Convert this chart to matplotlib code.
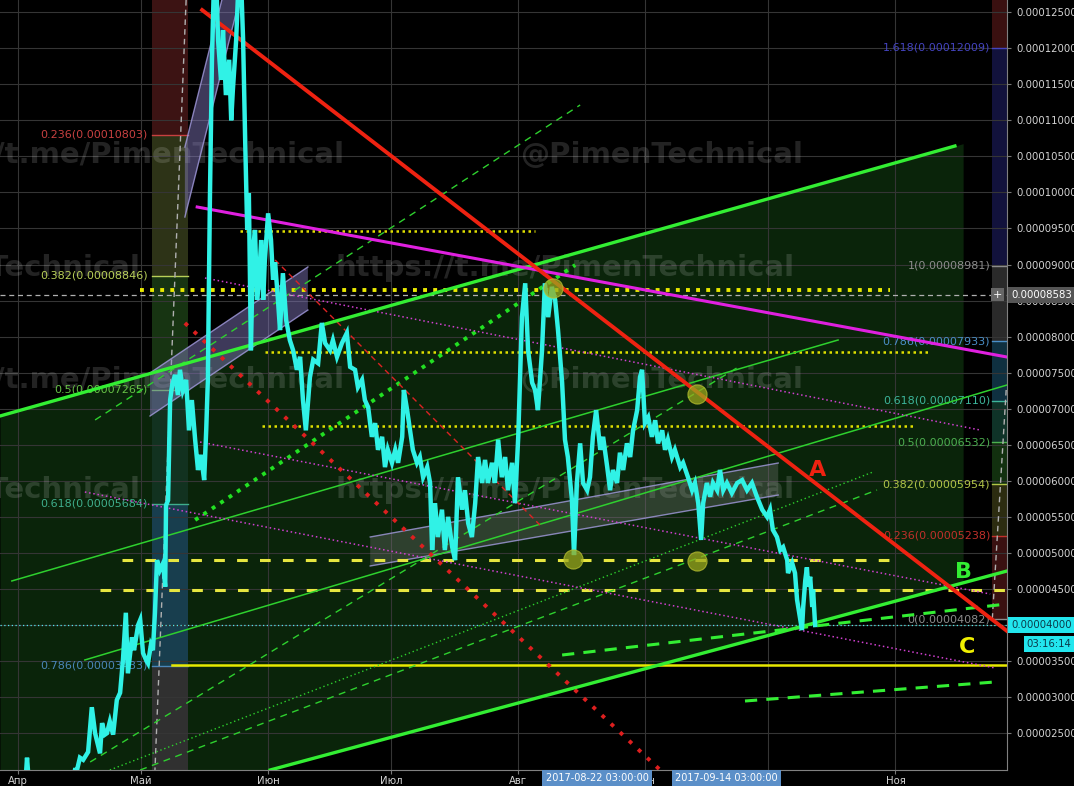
import numpy as np
import matplotlib
matplotlib.use("Agg")
import matplotlib.pyplot as plt
from matplotlib.patches import Polygon

plt.rcParams['font.family'] = ['DejaVu Sans']

# ---- time axis: days counted from 1 April 2017 ----
month_days = [0, 30, 61, 91, 122, 153, 183, 214]
month_labels = ['Апр', 'Май', 'Июн', 'Июл', 'Авг', 'Сен', 'Окт', 'Ноя']
x_range = [-4.39, 241.2]

# ---- price axis, in satoshi (1e-8) ----
y_range = [1989, 12669]
price_ticks = list(range(2500, 12501, 500))

price_day = [
    0.5, 1.7, 2.2, 2.7, 4.1, 7.8, 11.5, 13.2, 13.9, 14.4,
    15.1, 15.9, 17.1, 18.0, 18.8, 20.0, 20.5, 21.2, 21.7, 22.4,
    23.2, 24.1, 24.9, 25.6, 26.3, 26.8, 27.8, 28.3, 29.3, 29.8,
    30.5, 31.2, 31.7, 32.4, 32.9, 33.4, 33.9, 34.6, 35.4, 35.9,
    36.1, 36.6, 37.1, 37.6, 38.3, 39.0, 39.5, 40.2, 41.0, 41.7,
    42.4, 43.2, 43.9, 44.6, 45.4, 45.9, 46.3, 46.8, 47.3, 47.8,
    48.3, 48.8, 49.5, 50.0, 50.7, 51.5, 52.0, 52.4, 53.2, 53.7,
    54.4, 54.9, 55.4, 55.9, 56.3, 56.8, 57.3, 57.8, 58.3, 58.8,
    59.3, 59.8, 60.2, 61.0, 61.7, 62.2, 62.7, 63.4, 63.9, 64.6,
    65.4, 66.3, 67.1, 68.0, 68.8, 69.5, 70.2, 71.2, 72.0, 73.2,
    74.1, 74.9, 76.1, 76.8, 77.8, 79.0, 80.2, 81.0, 82.2, 82.9,
    83.9, 84.6, 85.4, 86.3, 87.1, 87.8, 88.8, 89.5, 90.2, 91.2,
    92.0, 92.7, 93.7, 94.1, 94.9, 95.6, 96.3, 97.3, 98.0, 98.8,
    99.8, 100.5, 101.0, 101.7, 102.4, 103.4, 104.1, 104.9, 105.9, 106.6,
    107.3, 108.3, 109.0, 109.8, 110.7, 111.5, 112.2, 113.2, 113.9, 114.6,
    115.6, 116.3, 117.1, 118.0, 118.8, 119.5, 120.5, 121.2, 122.0, 122.9,
    123.7, 124.4, 125.4, 126.1, 126.8, 127.8, 128.5, 129.3, 130.2, 131.0,
    131.7, 132.7, 133.4, 134.1, 135.1, 135.6, 136.3, 137.1, 137.8, 138.8,
    139.5, 140.2, 141.0, 142.0, 142.7, 143.7, 144.4, 145.1, 146.1, 146.8,
    147.6, 148.5, 149.3, 150.0, 151.0, 151.7, 152.2, 152.9, 153.7, 154.6,
    155.4, 156.1, 157.1, 157.8, 158.5, 159.5, 160.2, 161.5, 162.2, 163.4,
    164.4, 165.1, 165.9, 166.6, 167.1, 168.0, 168.8, 169.5, 170.5, 171.2,
    172.0, 172.9, 174.1, 175.4, 176.6, 177.8, 179.0, 180.2, 181.5, 182.7,
    183.4, 184.1, 185.1, 185.9, 186.6, 187.6, 187.8, 188.8, 189.5, 190.0,
    190.7, 191.2, 191.5, 192.0, 192.4, 192.7, 193.2, 193.7, 193.9, 194.4,
]
price_sat = [
    1570, 1710, 2160, 1780, 1570, 1640, 1710, 1780, 1990, 1990,
    2160, 2130, 2240, 2860, 2500, 2220, 2640, 2480, 2500, 2660,
    2480, 2960, 3060, 3520, 4170, 3330, 3830, 3650, 4000, 4070,
    3610, 3520, 3470, 3720, 3650, 4170, 4900, 4760, 4860, 4530,
    5660, 5730, 7120, 7330, 7470, 7190, 7540, 7260, 7400, 6700,
    7120, 6570, 6150, 6360, 6010, 6700, 7400, 9900, 11840, 12950,
    13020, 12110, 11560, 12250, 11350, 11840, 11000, 11420, 12110, 12810,
    12950, 12110, 10730, 9480, 9990, 7810, 9200, 9480, 8510, 8790,
    9340, 8510, 9060, 9710, 9340, 8790, 9030, 8510, 8090, 8880,
    8230, 7950, 7810, 7540, 7720, 7120, 6700, 7440, 7680, 7630,
    8190, 7910, 7810, 7950, 7720, 7910, 8050, 7580, 7540, 7300,
    7400, 7120, 7020, 6610, 6800, 6430, 6610, 6190, 6430, 6250,
    6430, 6250, 6610, 7260, 6980, 6700, 6430, 6250, 6330, 6050,
    6190, 5970, 5040, 5690, 5220, 5600, 5040, 5500, 5080, 4900,
    6050, 5600, 5870, 5410, 5220, 5690, 6330, 5970, 6290, 5970,
    6250, 5970, 6570, 6050, 6330, 5870, 6250, 5690, 6610, 8270,
    8740, 7810, 7360, 7260, 6980, 7810, 8740, 8270, 8690, 8510,
    8090, 7360, 6570, 6330, 5730, 4970, 5970, 6520, 5970, 5870,
    6050, 6610, 6980, 6430, 6610, 6190, 5870, 6150, 5970, 6390,
    6150, 6520, 6330, 6700, 6980, 7440, 7540, 6800, 6880, 6610,
    6840, 6520, 6700, 6430, 6570, 6330, 6430, 6190, 6250, 6050,
    5870, 5970, 5690, 5180, 5690, 5970, 5780, 5970, 5870, 6150,
    5870, 5970, 5830, 5970, 6010, 5870, 5970, 5780, 5600, 5500,
    5600, 5320, 5220, 5040, 5080, 4900, 4720, 4860, 4720, 4350,
    4110, 3930, 4250, 4620, 4800, 4530, 4670, 4250, 4490, 4000,
]

last_price = 4000
cursor_price = 8583
last_clock = '03:16:14'
date_marks = ['2017-08-22 03:00:00', '2017-09-14 03:00:00']
date_mark_days = [141.2, 172.7]

# Fibonacci retracement over the May impulse
fib_left_days = [32.7, 41.5]
fib_left_ratios = ['0', '0.236', '0.382', '0.5', '0.618', '0.786', '1']
fib_left_values = [13964, 10803, 8846, 7265, 5684, 3433, 566]
fib_left_trend = [(41.0, 12669), (33.4, 1989)]

# Fibonacci retracement over the August-September leg
fib_right_days = [237.6, 241.2]
fib_right_ratios = ['0', '0.236', '0.382', '0.5', '0.618', '0.786', '1', '1.618', '2.618']
fib_right_values = [4082, 5238, 5954, 6532, 7110, 7933, 8981, 12009, 16908]
fib_right_trend = [(241.0, 7260), (237.6, 4070)]

# trend lines as ((day, sat), (day, sat))
green_upper = [(-4.39, 6899), (228.5, 10644)]
green_lower = [(61.5, 1989), (241.2, 4749)]
green_thin_a = [(-1.5, 4611), (200.0, 7953)]
green_thin_b = [(16.3, 3515), (241.2, 7329)]
green_dash_steep_a = [(18.8, 6844), (137.1, 11213)]
green_dash_steep_b = [(17.6, 2100), (176.1, 7593)]
green_dot_fan = [(22.4, 1989), (208.5, 6122)]
green_dash_fan = [(29.8, 1989), (209.5, 5873)]
green_dash_low_a = [(132.7, 3584), (241.2, 4292)]
green_dash_low_b = [(177.3, 2946), (238.3, 3210)]
green_dots_big = [(43.2, 5457), (135.9, 8993)]
red_main = [(44.9, 12530), (241.2, 3917)]
red_dots_big = [(40.7, 8189), (156.6, 1989)]
red_dash = [(62.7, 9063), (127.3, 5387)]
magenta_main = [(43.7, 9798), (241.2, 7717)]
magenta_dot_a = [(45.6, 8813), (234.6, 6705)]
magenta_dot_b = [(44.4, 6538), (237.1, 4430)]
magenta_dot_c = [(16.3, 5845), (238.3, 3404)]
channel_end_day = 230.5

# horizontal levels: (sat, start day, end day)
level_big_dots = [(8647, 29.8, 212.7)]
level_small_dots = [(9465, 54.1, 126.1), (7787, 60.2, 222.4), (6760, 59.5, 218.8)]
level_dashed = [(4902, 25.4, 214.4), (4486, 20.0, 241.2)]
level_solid = [(3446, 37.6, 241.2)]

# parallel channels: day span, lower line, upper line
band_days = [[40.7, 55.9], [32.2, 70.7], [85.9, 185.4]]
band_lower = [[9659, 13099], [6899, 8369], [4819, 5803]]
band_upper = [[10630, 14070], [7496, 8966], [5221, 6247]]

# touch points
touch_day = [130.5, 165.6, 135.4, 165.6]
touch_sat = [8675, 7204, 4916, 4888]

wave_labels = ['A', 'B', 'C']
wave_day = [195.1, 230.5, 231.5]
wave_sat = [6150, 4735, 3695]


def line_y(seg, x):
    (x0, y0), (x1, y1) = seg
    return y0 + (y1 - y0) * (np.asarray(x, dtype=float) - x0) / (x1 - x0)


def sat_text(v):
    return f"{v * 1e-8:.8f}"


fig = plt.figure(figsize=(10.74, 7.86), dpi=100, facecolor='black')
ax = fig.add_axes([0, 16 / 786, 1007 / 1074, 770 / 786])
ax.set_facecolor('black')
ax.set_xlim(*x_range)
ax.set_ylim(*y_range)

# grid and scales
ax.set_xticks(month_days)
ax.set_xticklabels(month_labels)
ax.set_yticks(price_ticks)
ax.set_yticklabels([sat_text(v) for v in price_ticks])
ax.yaxis.tick_right()
ax.grid(True, color='#353535', lw=0.8)
ax.set_axisbelow(True)
ax.tick_params(axis='both', colors='#777777', labelcolor='#d4d4d4',
               labelsize=7.3, length=3, width=0.8)
ax.tick_params(axis='y', pad=4)
ax.tick_params(axis='x', pad=1.5)
for s in ['top', 'left']:
    ax.spines[s].set_visible(False)
for s in ['right', 'bottom']:
    ax.spines[s].set_color('#808080')
    ax.spines[s].set_linewidth(0.8)

# green channel fill
cx = np.array([x_range[0], channel_end_day])
ax.fill_between(cx, line_y(green_lower, cx), line_y(green_upper, cx),
                color='#0a240a', lw=0, zorder=0.1)

# Fibonacci columns
fib_left_fill = ['#3c1313', '#2d3317', '#173412', '#123220', '#183e4e', '#303030']
fib_left_col = ['#909090', '#c84040', '#b8cf58', '#66c046', '#3fae8c', '#4a86b8', '#909090']
for i in range(len(fib_left_values) - 1):
    ax.fill_between(fib_left_days, fib_left_values[i + 1], fib_left_values[i],
                    color=fib_left_fill[i], lw=0, zorder=0.3)
for r, v, c in zip(fib_left_ratios, fib_left_values, fib_left_col):
    if y_range[0] < v < y_range[1]:
        ax.plot(fib_left_days, [v, v], color=c, lw=1, zorder=2)
        ax.text(fib_left_days[0] - 1.0, v, f"{r}({sat_text(v)})", color=c,
                fontsize=8, ha='right', va='center', zorder=2)
ax.plot(*zip(*fib_left_trend), color='#b0b0b0', lw=1, ls=(0, (4, 3)), zorder=2)

fib_right_fill = ['#3a1111', '#2c2c10', '#12300f', '#0f3328', '#0f3040',
                  '#2a2a2a', '#12123c', '#3a1010']
fib_right_col = ['#8c8c8c', '#c0302a', '#b2c548', '#4caf50', '#3cb59a',
                 '#4a8fc8', '#8c8c8c', '#4444c0', '#c03030']
for i in range(len(fib_right_values) - 1):
    ax.fill_between(fib_right_days, fib_right_values[i], fib_right_values[i + 1],
                    color=fib_right_fill[i], lw=0, zorder=0.3)
for r, v, c in zip(fib_right_ratios, fib_right_values, fib_right_col):
    if y_range[0] < v < y_range[1]:
        ax.plot(fib_right_days, [v, v], color=c, lw=1, zorder=2)
        ax.text(fib_right_days[0] - 0.5, v, f"{r}({sat_text(v)})", color=c,
                fontsize=8, ha='right', va='center', zorder=2)
ax.plot(*zip(*fib_right_trend), color='#b0b0b0', lw=1, ls=(0, (4, 3)), zorder=2)

# watermarks
wm = dict(fontsize=21, fontweight='bold', color='white', alpha=0.14,
          transform=ax.transAxes, va='center', zorder=1)
for row, y in enumerate([155, 268, 380, 490]):
    yf = 1 - y / 770
    if row % 2 == 0:
        ax.text(345 / 1007, yf, 'https://t.me/PimenTechnical', ha='right', **wm)
        ax.text(520 / 1007, yf, '@PimenTechnical', ha='left', **wm)
    else:
        ax.text(140 / 1007, yf, '@PimenTechnical', ha='right', **wm)
        ax.text(335 / 1007, yf, 'https://t.me/PimenTechnical', ha='left', **wm)

# parallel channels
band_face = ['#8a80c8', '#8a80c8', '#8c8c8c']
band_alpha = [0.45, 0.45, 0.28]
for d, lo, hi, fc, a in zip(band_days, band_lower, band_upper, band_face, band_alpha):
    pts = [(d[0], lo[0]), (d[1], lo[1]), (d[1], hi[1]), (d[0], hi[0])]
    ax.add_patch(Polygon(pts, closed=True, facecolor=fc, alpha=a, lw=0, zorder=2))
    ax.plot(d, lo, color='#a49ce0', lw=1, alpha=0.8, zorder=2)
    ax.plot(d, hi, color='#a49ce0', lw=1, alpha=0.8, zorder=2)

# horizontal levels
for v, d0, d1 in level_big_dots:
    ax.plot([d0, d1], [v, v], color='#e8e800', lw=2.8, ls=(0, (1, 1.6)), zorder=3)
for v, d0, d1 in level_small_dots:
    ax.plot([d0, d1], [v, v], color='#e0e000', lw=1.8, ls=(0, (1, 1.4)), zorder=3)
for v, d0, d1 in level_dashed:
    ax.plot([d0, d1], [v, v], color='#e6e640', lw=2.2, ls=(0, (3.5, 4)), zorder=3)
for v, d0, d1 in level_solid:
    ax.plot([d0, d1], [v, v], color='#e8e800', lw=1.8, zorder=3)
ax.axhline(cursor_price, color='#b0b0b0', lw=0.9, ls=(0, (4, 3)), zorder=3)
ax.axhline(last_price, color='#50e8e8', lw=0.9, ls=(0, (1, 2)), zorder=3)


def draw(seg, **kw):
    ax.plot([seg[0][0], seg[1][0]], [seg[0][1], seg[1][1]], **kw)


thin_green = '#2ed02e'
draw(green_thin_a, color=thin_green, lw=1.1, zorder=3)
draw(green_thin_b, color=thin_green, lw=1.1, zorder=3)
draw(green_dash_steep_a, color=thin_green, lw=1.0, ls=(0, (5, 4)), zorder=3)
draw(green_dash_steep_b, color=thin_green, lw=1.0, ls=(0, (5, 4)), zorder=3)
draw(green_dot_fan, color=thin_green, lw=1.0, ls=(0, (1, 2)), zorder=3)
draw(green_dash_fan, color=thin_green, lw=1.0, ls=(0, (5, 4)), zorder=3)
draw(green_dash_low_a, color='#33ee33', lw=2.2, ls=(0, (4, 3)), zorder=3)
draw(green_dash_low_b, color='#33ee33', lw=2.2, ls=(0, (4, 3)), zorder=3)
draw(green_dots_big, color='#22e022', lw=2.8, ls=(0, (1, 1.6)), zorder=3)
draw(green_upper, color='#33ee33', lw=2.4, zorder=4)
draw(green_lower, color='#33ee33', lw=2.4, zorder=4)
draw(magenta_dot_a, color='#d040d0', lw=1.1, ls=(0, (1, 1.8)), zorder=3)
draw(magenta_dot_b, color='#d040d0', lw=1.1, ls=(0, (1, 1.8)), zorder=3)
draw(magenta_dot_c, color='#d040d0', lw=1.1, ls=(0, (1, 1.8)), zorder=3)
draw(magenta_main, color='#e020e0', lw=2.2, zorder=4)
draw(red_dash, color='#dd2222', lw=1.0, ls=(0, (4, 3)), zorder=3)
draw(red_dots_big, color='#dd1f1f', lw=2.8, ls=(0, (1, 2.2)), zorder=3)
draw(red_main, color='#ee2211', lw=2.8, zorder=4)

# price
ax.plot(price_day, price_sat, color='#30f2e6', lw=3.2, zorder=6, solid_joinstyle='miter')

# touch points
ax.scatter(touch_day, touch_sat, s=190, color='#9aa81e', alpha=0.75,
           edgecolors='#b8c030', linewidths=0.8, zorder=7)

# wave labels
wave_col = ['#ee2211', '#33ee33', '#f0f000']
for t, d, v, c in zip(wave_labels, wave_day, wave_sat, wave_col):
    ax.text(d, v, t, color=c, fontsize=16, fontweight='bold', ha='center',
            va='center', zorder=8)

# price scale markers
ytr = ax.get_yaxis_transform()
ax.text(1.004, cursor_price, sat_text(cursor_price), transform=ytr, color='white',
        fontsize=7.3, ha='left', va='center', zorder=10, clip_on=False,
        bbox=dict(boxstyle='square,pad=0.3', fc='#555555', ec='none'))
ax.text(238.8, cursor_price, '+', color='white', fontsize=8, ha='center',
        va='center', zorder=10,
        bbox=dict(boxstyle='square,pad=0.15', fc='#666666', ec='none'))
ax.text(1.004, last_price, sat_text(last_price), transform=ytr, color='#0b3a4a',
        fontsize=7.3, ha='left', va='center', zorder=10, clip_on=False,
        bbox=dict(boxstyle='square,pad=0.3', fc='#22e6ee', ec='none'))
ax.text(1.064, last_price - 260, last_clock, transform=ytr, color='#0b3a4a',
        fontsize=7.3, ha='right', va='center', zorder=10, clip_on=False,
        bbox=dict(boxstyle='square,pad=0.3', fc='#22e6ee', ec='none'))

# time scale markers
xtr = ax.get_xaxis_transform()
for d, t in zip(date_mark_days, date_marks):
    ax.text(d, -0.0105, t, transform=xtr, color='white', fontsize=7,
            ha='center', va='center', zorder=10, clip_on=False,
            bbox=dict(boxstyle='square,pad=0.32', fc='#5b8fc8', ec='none'))

fig.savefig('out.png', dpi=100, facecolor='black')
